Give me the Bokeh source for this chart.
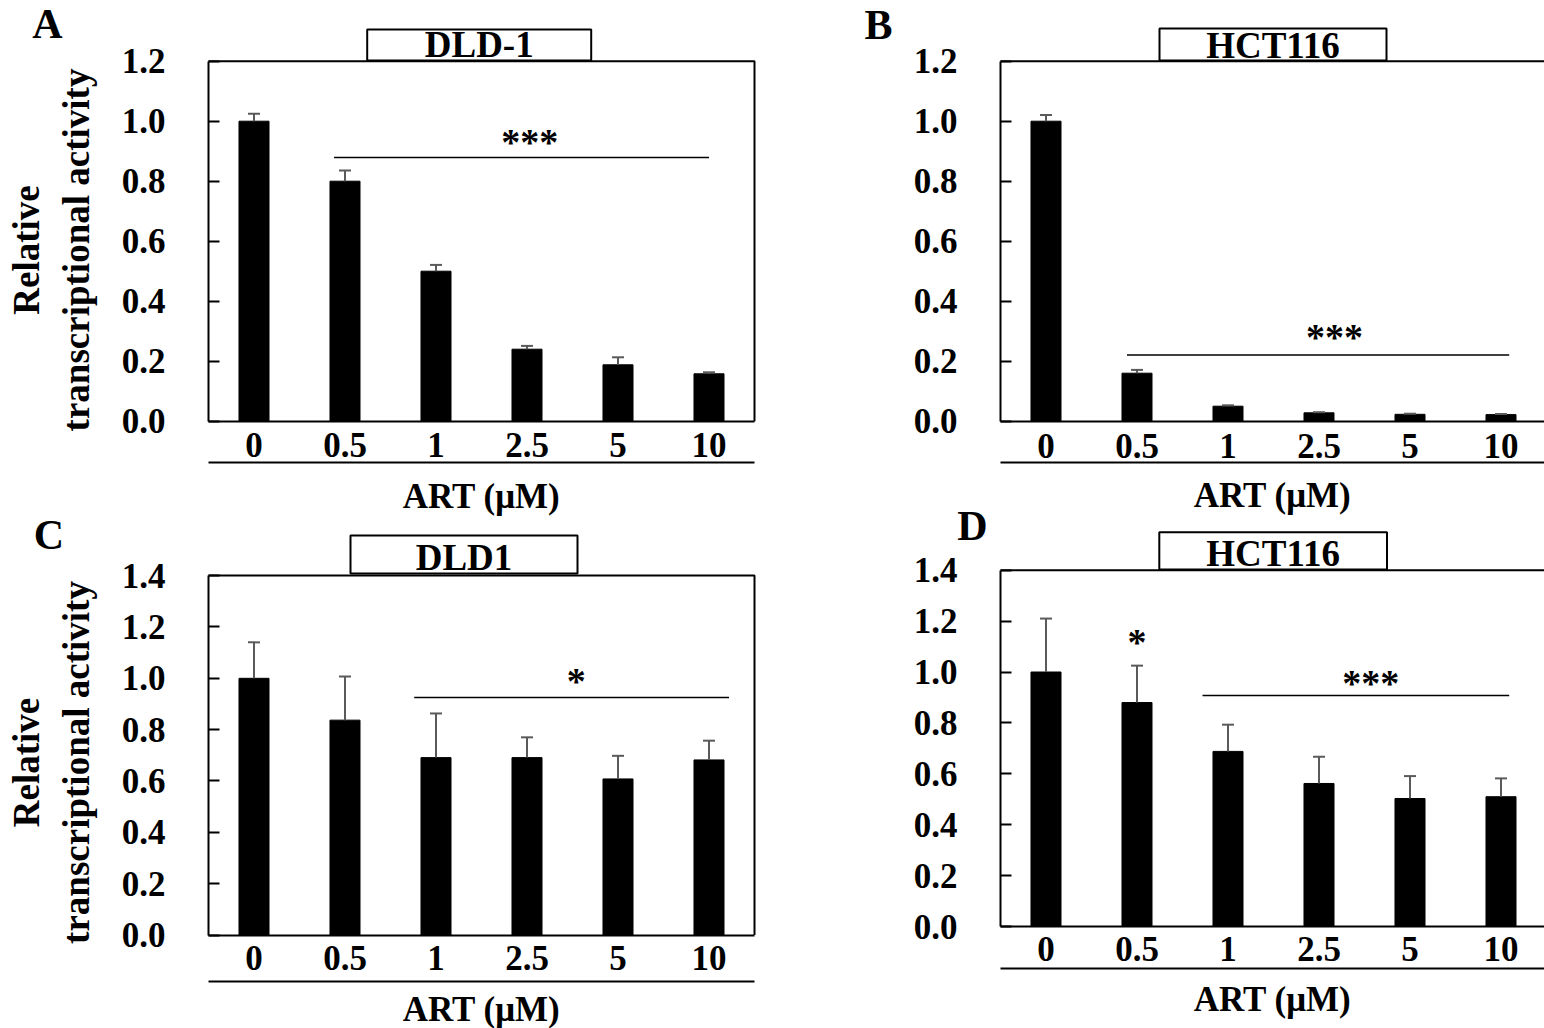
from bokeh.plotting import figure
from bokeh.models import (Range1d, LinearAxis, FixedTicker, PrintfTickFormatter,
                          ColumnDataSource)
from bokeh.layouts import row
from bokeh.core.properties import value
from bokeh.embed import file_html
from bokeh.resources import INLINE

# ---------------- data ----------------
doses = ["0", "0.5", "1", "2.5", "5", "10"]
x_title = "ART (μM)"
y_title = "Relative\ntranscriptional activity"

a_vals = [1.00, 0.80, 0.50, 0.24, 0.188, 0.158]
a_errs = [0.025, 0.036, 0.021, 0.011, 0.025, 0.005]
b_vals = [1.00, 0.16, 0.05, 0.028, 0.023, 0.022]
b_errs = [0.021, 0.011, 0.003, 0.002, 0.002, 0.002]
c_vals = [1.00, 0.837, 0.691, 0.691, 0.608, 0.682]
c_errs = [0.14, 0.17, 0.172, 0.079, 0.09, 0.075]
d_vals = [1.00, 0.880, 0.688, 0.562, 0.503, 0.510]
d_errs = [0.21, 0.145, 0.105, 0.105, 0.088, 0.072]

ticks_ab = [0.0, 0.2, 0.4, 0.6, 0.8, 1.0, 1.2]
ticks_cd = [0.0, 0.2, 0.4, 0.6, 0.8, 1.0, 1.2, 1.4]

cell_lines = ["DLD-1", "HCT116", "DLD1", "HCT116"]
letters = ["A", "B", "C", "D"]

# significance: (label, (from dose, offset), (to dose, offset), line level,
#                (label dose, offset), label level)
a_sig = [("***", ("0.5", -0.12), ("10", 0.0), 0.879, ("2.5", 0.03), 0.931)]
b_sig = [("***", ("0.5", -0.11), ("10", 0.09), 0.221, ("2.5", 0.17), 0.282)]
c_sig = [("*", ("1", -0.24), ("10", 0.22), 0.925, ("2.5", 0.54), 0.991)]
d_sig = [("***", ("1", -0.28), ("10", 0.09), 0.908, ("2.5", 0.57), 0.957),
         ("*", None, None, None, ("0.5", 0.0), 1.118)]

FONT = "Liberation Serif"
ERR = "#5a5a5a"
NCAT = len(doses)


def pos(d):
    return doses.index(d) + 0.5


def make_column(ox, W, H, fl, cw, top_geo, low_geo):
    def X(px):
        return (px - fl) / cw

    t_fb, t_ppu = top_geo
    l_fb, l_ppu = low_geo
    p = figure(x_range=Range1d(X(ox), X(ox + W)),
               y_range=Range1d((t_fb - H) / t_ppu, t_fb / t_ppu),
               width=W, height=H, min_border=0,
               min_border_left=0, min_border_right=0, min_border_top=0, min_border_bottom=0,
               toolbar_location=None, output_backend="svg",
               background_fill_color="white", border_fill_color="white",
               x_axis_type=None, y_axis_type=None)
    p.extra_y_ranges = {"lower": Range1d((l_fb - H) / l_ppu, l_fb / l_ppu)}
    p.outline_line_color = None
    p.xgrid.visible = False
    p.ygrid.visible = False
    return p, X


def panel(p, X, yname, fb, ppu, vals, errs, ticks, ymax, cell, letter, sigs,
          geo, ylabel, so):
    tick_so, line_py, lab_so = so

    def Y(py):
        return (fb - py) / ppu

    kw = dict(y_range_name=yname)
    xs = [pos(d) for d in doses]
    src = ColumnDataSource(dict(x=xs, top=vals,
                                etop=[v + e for v, e in zip(vals, errs)]))
    p.vbar(x="x", top="top", width=0.33, source=src,
           fill_color="black", line_color="black", **kw)
    p.segment(x0="x", y0="top", x1="x", y1="etop", source=src,
              line_color=ERR, line_width=2, **kw)
    p.scatter(x="x", y="etop", marker="dash", size=12, source=src,
              line_color=ERR, line_width=2, **kw)

    # plot-area top and right borders
    p.line(x=[0, NCAT, NCAT], y=[ymax, ymax, 0], line_color="black", line_width=2, **kw)

    for lab, s0, s1, ly, tx, ty in sigs:
        if s0 is not None:
            p.line(x=[pos(s0[0]) + s0[1], pos(s1[0]) + s1[1]], y=[ly, ly],
                   line_color="black", line_width=1.5, **kw)
        p.text(x=[pos(tx[0]) + tx[1]], y=[ty], text=[lab], text_font=value(FONT),
               text_font_style="bold", text_font_size="38px",
               text_align="center", text_baseline="alphabetic", text_color="black", **kw)

    # y axis
    ya = LinearAxis(fixed_location=0, bounds=(0, ymax), y_range_name=yname)
    ya.ticker = FixedTicker(ticks=ticks)
    ya.formatter = PrintfTickFormatter(format="%.1f")
    ya.major_tick_in = 11
    ya.major_tick_out = 0
    ya.minor_tick_in = 0
    ya.minor_tick_out = 0
    ya.major_tick_line_width = 2
    ya.axis_line_width = 2
    ya.major_label_standoff = 43
    ya.major_label_text_font = FONT
    ya.major_label_text_font_style = "bold"
    ya.major_label_text_font_size = "35px"
    ya.major_label_text_color = "black"
    p.add_layout(ya, "left")
    if ylabel is not None:
        yl = LinearAxis(fixed_location=0, bounds=(ylabel, ymax), y_range_name=yname,
                        ticker=FixedTicker(ticks=[]), axis_label=y_title,
                        axis_line_color=None, major_tick_in=0, major_tick_out=0,
                        minor_tick_in=0, minor_tick_out=0, major_label_standoff=0,
                        axis_label_standoff=112, axis_label_text_font=FONT,
                        axis_label_text_font_style="bold",
                        axis_label_text_font_size="37px",
                        axis_label_text_line_height=1.2,
                        axis_label_text_color="black")
        p.add_layout(yl, "left")

    # x axis with dose labels
    xa = LinearAxis(fixed_location=0, bounds=(0, NCAT), y_range_name=yname)
    xa.ticker = FixedTicker(ticks=xs)
    xa.major_label_overrides = {x: d for x, d in zip(xs, doses)}
    xa.major_tick_in = 0
    xa.major_tick_out = 0
    xa.minor_tick_in = 0
    xa.minor_tick_out = 0
    xa.axis_line_width = 2
    xa.major_label_standoff = int(tick_so)
    xa.major_label_text_font = FONT
    xa.major_label_text_font_style = "bold"
    xa.major_label_text_font_size = "35px"
    xa.major_label_text_color = "black"
    p.add_layout(xa, "below")

    # rule under the dose labels, carrying the axis title
    ax2 = LinearAxis(fixed_location=Y(line_py), bounds=(0, NCAT), y_range_name=yname,
                     ticker=FixedTicker(ticks=[]), axis_label=x_title,
                     major_tick_in=0, major_tick_out=0, minor_tick_in=0, minor_tick_out=0,
                     major_label_standoff=0,
                     axis_label_standoff=int(lab_so), axis_label_text_font=FONT,
                     axis_label_text_font_style="bold", axis_label_text_font_size="35px",
                     axis_label_text_color="black", axis_line_width=2,
                     axis_line_color="black")
    p.add_layout(ax2, "below")

    # cell-line box
    bx0, by0, bx1, by1, tcy = geo["box"]
    p.quad(left=[X(bx0)], right=[X(bx1)], top=[Y(by0)], bottom=[Y(by1)],
           fill_color="white", line_color="black", line_width=2, **kw)
    p.text(x=[X((bx0 + bx1) / 2)], y=[Y(tcy)], text=[cell], text_font=value(FONT),
           text_font_style="bold", text_font_size="37px", text_align="center",
           text_baseline="middle", text_color="black", **kw)
    # panel letter
    lx, lyy = geo["letter"]
    p.text(x=[X(lx)], y=[Y(lyy)], text=[letter], text_font=value(FONT),
           text_font_style="bold", text_font_size="42px", text_align="center",
           text_baseline="middle", text_color="black", **kw)


geo_a = dict(box=(366.7, 29, 590.7, 60, 44.2), letter=(47, 23.5))
geo_b = dict(box=(1159, 28, 1386, 60, 45), letter=(878, 24.5))
geo_c = dict(box=(350, 535, 577, 573, 557), letter=(48.5, 534))
geo_d = dict(box=(1158.8, 531.7, 1386.5, 569, 552.5), letter=(972, 525))

# left column (A over C), right column (B over D)
pL, XL = make_column(0, 840, 1028, 208, 91, (420.7, 300), (934.5, 256.7))
pR, XR = make_column(840, 704, 1028, 1000, 91, (420.7, 300), (926, 254.5))

panel(pL, XL, "default", 420.7, 300, a_vals, a_errs, ticks_ab, 1.2, cell_lines[0],
      letters[0], a_sig, geo_a, -0.056, (12, 461.7, 14))
panel(pL, XL, "lower", 934.5, 256.7, c_vals, c_errs, ticks_cd, 1.4, cell_lines[2],
      letters[2], c_sig, geo_c, -0.056, (11, 981, 8))
panel(pR, XR, "default", 420.7, 300, b_vals, b_errs, ticks_ab, 1.2, cell_lines[1],
      letters[1], b_sig, geo_b, None, (13, 461.7, 13))
panel(pR, XR, "lower", 926, 254.5, d_vals, d_errs, ticks_cd, 1.4, cell_lines[3],
      letters[3], d_sig, geo_d, None, (10, 968.3, 11))

layout = row(pL, pR)
open("out.html", "w").write(file_html(layout, INLINE))
